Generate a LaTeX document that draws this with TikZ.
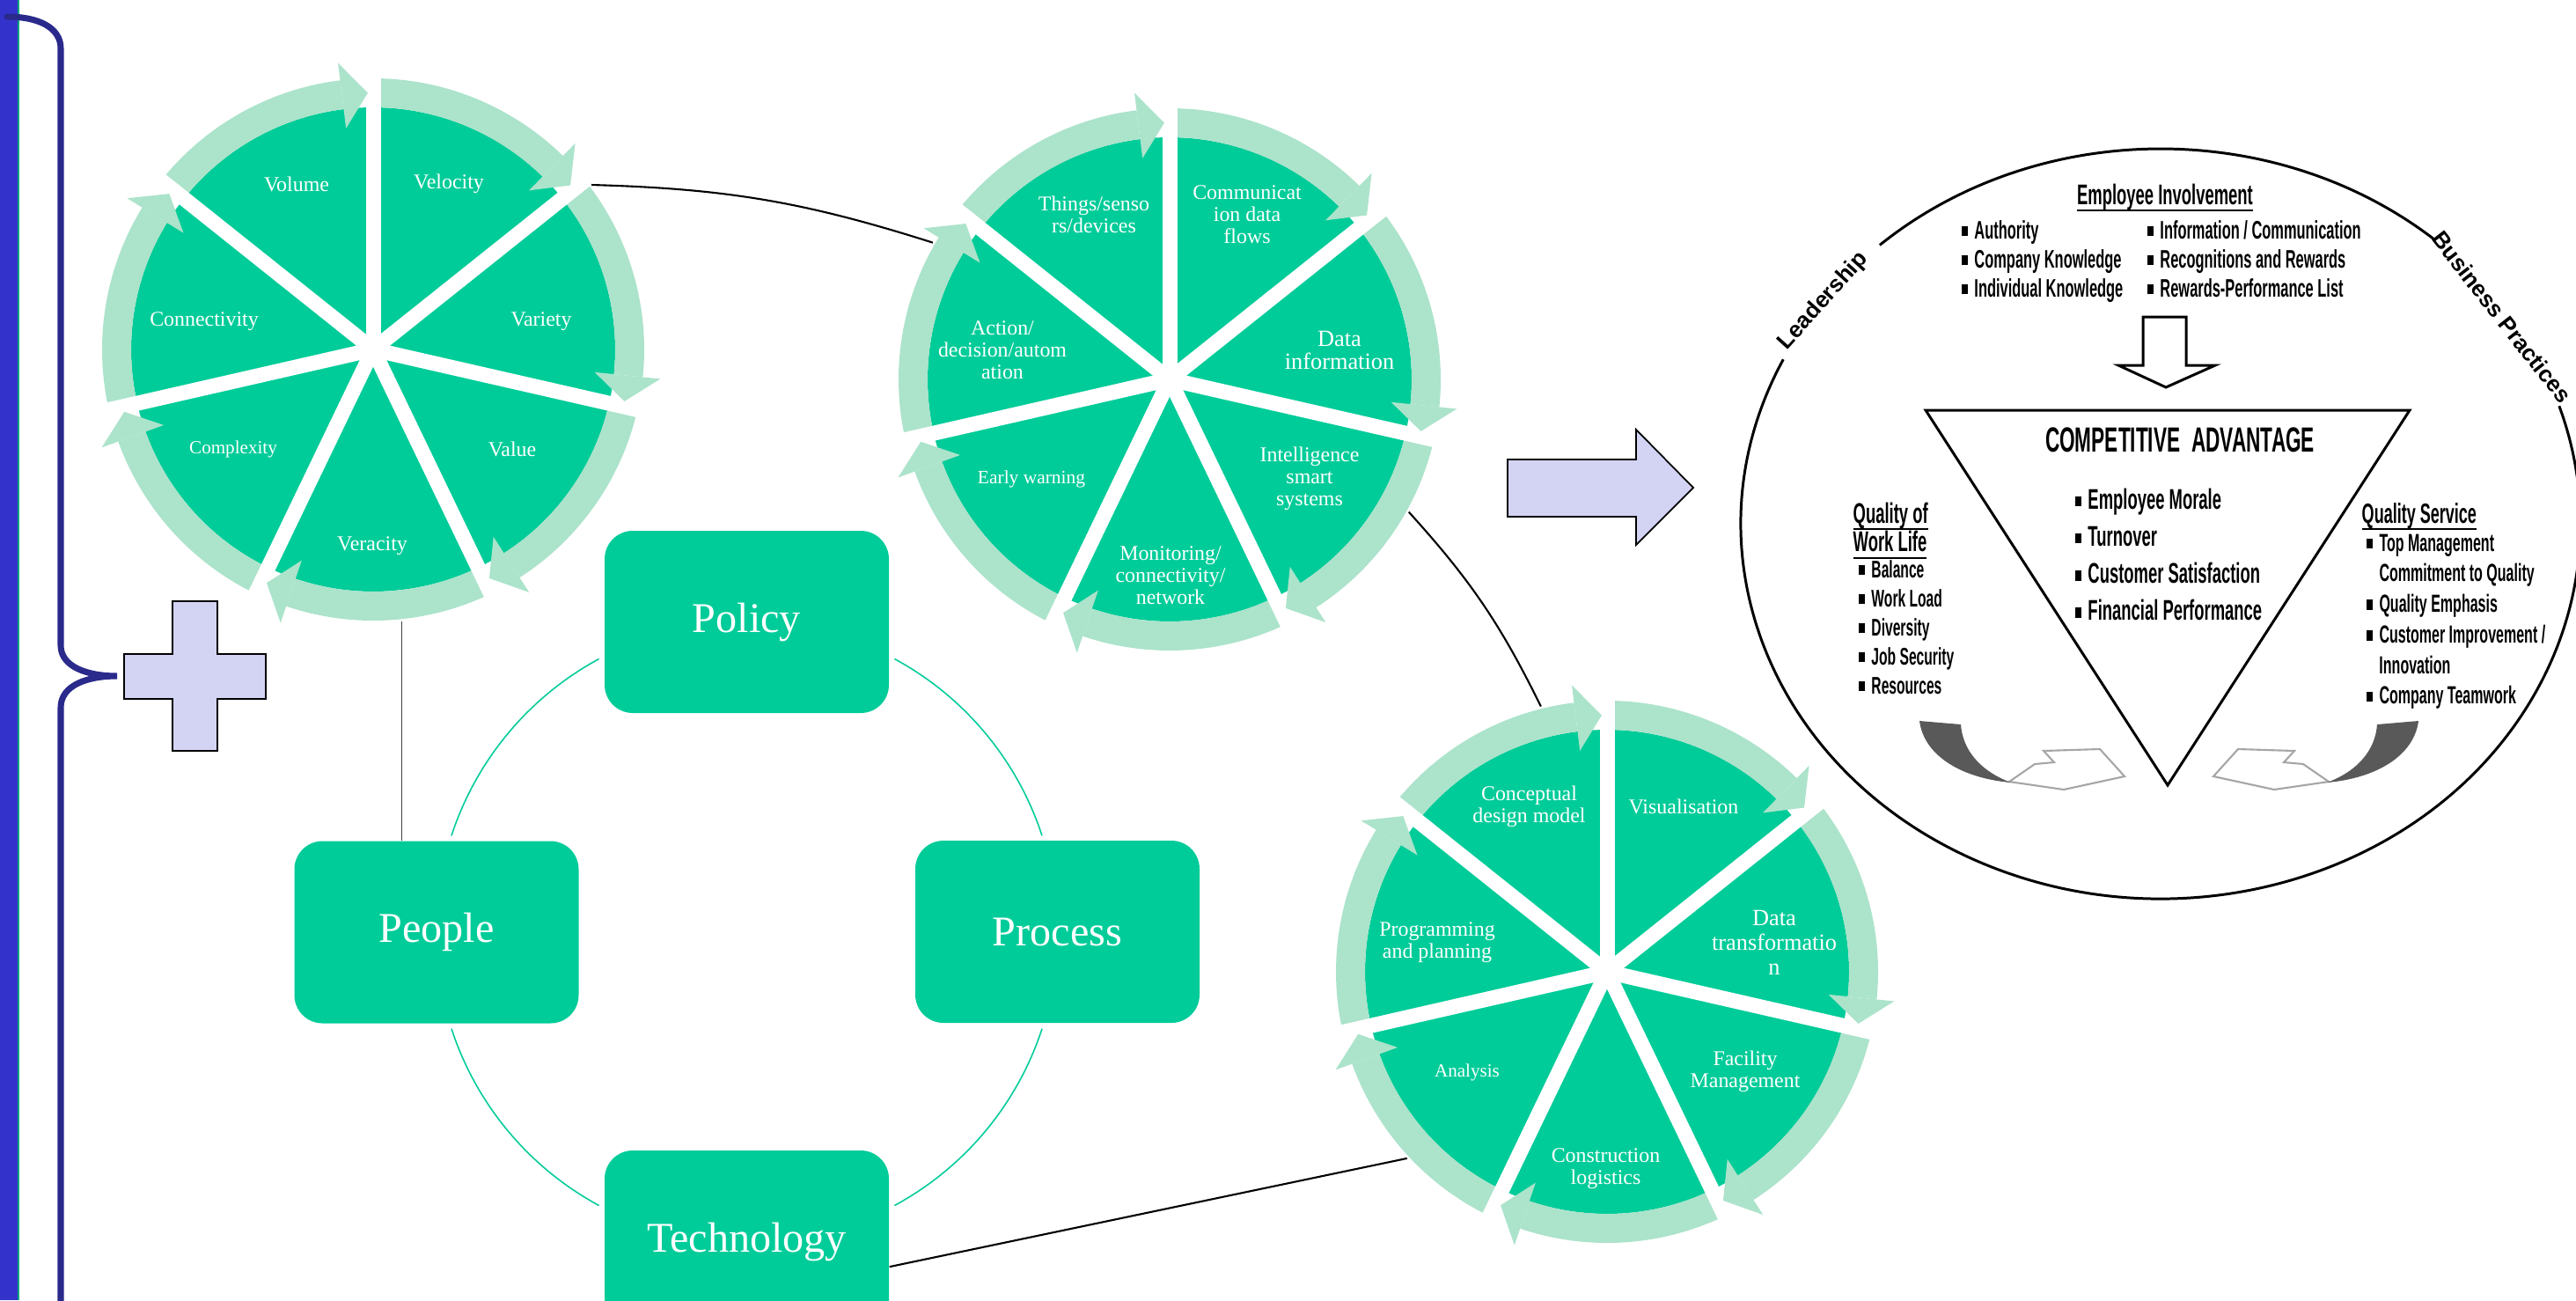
\documentclass[tikz,border=0pt]{standalone}
\usepackage{fontspec}
\setmainfont{Liberation Serif}
\newfontfamily\cafont[FakeStretch=0.57]{Liberation Sans}
\newfontfamily\arcfont{Liberation Sans}
\usepackage{tikz}
\usetikzlibrary{positioning}

\definecolor{segdark}{RGB}{0,204,153}
\definecolor{seglight}{RGB}{172,227,203}
\definecolor{barblue}{RGB}{51,51,204}
\definecolor{bracenavy}{RGB}{42,42,140}
\definecolor{lavender}{RGB}{211,211,243}

% square bullet of the list items
\newcommand{\sqb}{\rule[0.8pt]{2.2pt}{3.3pt}}
% heading with a heavy rule under it
\newcommand{\hdline}[1]{\leavevmode\setbox0=\hbox{#1}\rlap{\rule[-2.4pt]{\wd0}{0.7pt}}\box0}

% seven sectors with their arrow band, drawn round (0,0)
\newcommand{\wheelbody}{%
  \foreach \k in {0,...,6}{
    \pgfmathsetmacro{\angA}{90-51.4286*\k}
    \pgfmathsetmacro{\angB}{\angA-51.4286}
    \pgfmathsetmacro{\angC}{\angB+7}
    \fill[segdark] (0,0) -- (\angA:2.75) arc[start angle=\angA, end angle=\angB, radius=2.75] -- cycle;
    \fill[seglight] (\angA:2.75) arc[start angle=\angA, end angle=\angC, radius=2.75]
      -- (\angC:3.08) arc[start angle=\angC, end angle=\angA, radius=3.08] -- cycle;
  }
  \foreach \k in {0,...,6}
    \draw[white, line width=0.17cm] (0,0) -- (90-51.4286*\k:3.45);
  \foreach \k in {1,...,7}{
    \pgfmathsetmacro{\angB}{90-51.4286*\k}
    \pgfmathsetmacro{\angC}{\angB+7}
    \pgfmathsetmacro{\angT}{\angB+1.2}
    \fill[seglight] (\angC:2.53) -- (\angT:2.915) -- (\angC:3.28) -- cycle;
  }
}

% dark swoosh turning into an open arrow
\newcommand{\swoosh}{%
  \draw[gray!70, line width=0.6pt, fill=white] (22.83,-8.88) -- (23.12,-8.68) -- (23.34,-8.66) -- (23.22,-8.53)
    -- (23.86,-8.51) -- (24.14,-8.82) -- (23.45,-8.97) -- cycle;
  \fill[black!65] (21.81,-8.19) .. controls (21.86,-8.58) and (22.28,-8.84) .. (22.85,-8.89)
    .. controls (22.50,-8.76) and (22.30,-8.52) .. (22.28,-8.23) -- cycle;
}

\begin{document}
\begin{tikzpicture}
\tikzstyle{hub}=[circle, minimum size=6.2cm, inner sep=0pt]
\tikzstyle{seglabel}=[text=white, align=center, inner sep=0pt, font=\fontsize{6.8}{7.1}\selectfont]
\tikzstyle{pillar}=[rectangle, rounded corners=0.32cm, fill=segdark, minimum width=3.23cm, minimum height=2.07cm, text=white, font=\fontsize{13.7}{16}\selectfont]
\tikzstyle{cycarc}=[segdark, line width=0.45pt]
\tikzstyle{link}=[black, line width=0.6pt]
\tikzstyle{block}=[fill=lavender, draw=black, line width=0.5pt]
\tikzstyle{inkline}=[black, line width=0.85pt]
\tikzstyle{ink}=[inner sep=0pt, text=black, anchor=base west]
\tikzstyle{rimtext}=[inner sep=0pt, text=black, font=\arcfont\bfseries\fontsize{7.4}{9}\selectfont]

\useasboundingbox (0,0) rectangle (29.27,-14.77);
\clip (0,0) rectangle (29.27,-14.77);

% bar and brace on the left
\fill[barblue] (0,0) rectangle (0.20,-14.77);
\draw[segdark!80!black, line width=0.5pt] (0.21,0) -- (0.21,-14.77);
\draw[bracenavy, line width=2pt, line cap=round] (0.08,-0.19) .. controls (0.45,-0.19) and (0.69,-0.32) .. (0.69,-0.55)
  -- (0.69,-7.33) .. controls (0.69,-7.58) and (1.0,-7.68) .. (1.33,-7.68)
  .. controls (1.0,-7.68) and (0.69,-7.78) .. (0.69,-8.04) -- (0.69,-14.9);

\draw[block] (1.96,-6.83) -- (2.47,-6.83) -- (2.47,-7.43) -- (3.02,-7.43) -- (3.02,-7.94) -- (2.47,-7.94)
  -- (2.47,-8.53) -- (1.96,-8.53) -- (1.96,-7.94) -- (1.41,-7.94) -- (1.41,-7.43) -- (1.96,-7.43) -- cycle;

% the three wheels
\node[hub] (w_1) at (4.24,-3.97) {};
\node[hub] (w_2) at (13.29,-4.31) {};
\node[hub] (w_3) at (18.26,-11.04) {};

\begin{scope}[shift={(w_1)}]
	\wheelbody
	\node[seglabel] (velocity) at (0.86,1.88) {Velocity};
	\node[seglabel] (variety) at (1.91,0.32) {Variety};
	\node[seglabel] (value) at (1.58,-1.13) {Value};
	\node[seglabel] (veracity) at (-0.01,-2.23) {Veracity};
	\node[seglabel, font=\fontsize{6}{7}\selectfont] (complexity) at (-1.59,-1.13) {Complexity};
	\node[seglabel] (connectivity) at (-1.92,0.32) {Connectivity};
	\node[seglabel] (volume) at (-0.87,1.88) {Volume};
\end{scope}

\begin{scope}[shift={(w_2)}]
	\wheelbody
	\node[seglabel] (commflows) at (0.88,1.87) {Communicat\\ion data\\flows};
	\node[seglabel, font=\fontsize{7.5}{7.4}\selectfont] (datainfo) at (1.93,0.33) {Data\\information};
	\node[seglabel] (intel) at (1.59,-1.13) {Intelligence\\smart\\systems};
	\node[seglabel] (monitor) at (0.01,-2.23) {Monitoring/\\connectivity/\\network};
	\node[seglabel, font=\fontsize{6.1}{7}\selectfont] (early) at (-1.57,-1.13) {Early warning};
	\node[seglabel] (action) at (-1.90,0.33) {Action/\\decision/autom\\ation};
	\node[seglabel] (things) at (-0.86,1.87) {Things/senso\\rs/devices};
\end{scope}

\begin{scope}[shift={(w_3)}]
	\wheelbody
	\node[seglabel] (visual) at (0.87,1.88) {Visualisation};
	\node[seglabel, font=\fontsize{7.5}{7.9}\selectfont] (datatrans) at (1.90,0.33) {Data\\transformatio\\n};
	\node[seglabel] (facility) at (1.57,-1.135) {Facility\\Management};
	\node[seglabel] (constr) at (-0.015,-2.24) {Construction\\logistics};
	\node[seglabel, font=\fontsize{6}{7}\selectfont] (analysis) at (-1.59,-1.14) {Analysis};
	\node[seglabel] (programming) at (-1.93,0.33) {Programming\\and planning};
	\node[seglabel] (concept) at (-0.885,1.88) {Conceptual\\design model};
\end{scope}

% policy / people / process / technology cycle
\node[pillar] (policy) at (8.485,-7.065) {Policy};
\node[pillar] (people) at (4.96,-10.59) {People};
\node[pillar] (process) at (12.015,-10.585) {Process};
\node[pillar] (tech) at (8.485,-14.105) {Technology};

\coordinate (cyc) at (8.485,-10.59);
\draw[cycarc] ([shift={(18.1:3.53)}]cyc) arc[start angle=18.1, end angle=61.6, radius=3.53];
\draw[cycarc] ([shift={(118.4:3.53)}]cyc) arc[start angle=118.4, end angle=161.9, radius=3.53];
\draw[cycarc] ([shift={(198.1:3.53)}]cyc) arc[start angle=198.1, end angle=241.6, radius=3.53];
\draw[cycarc] ([shift={(298.4:3.53)}]cyc) arc[start angle=298.4, end angle=341.9, radius=3.53];

\path
	(w_1.37) edge [link, bend left=8] (w_2.150)
	(w_2.-29) edge [link, bend left=8] (w_3.104)
	(w_3.223) edge [link] (tech.-10);
\draw[link, black!75, line width=0.45pt] (w_1.-84) -- (w_1.-84 |- people.north);

\draw[block] (17.13,-5.22) -- (18.59,-5.22) -- (18.59,-4.88) -- (19.24,-5.54) -- (18.59,-6.19) -- (18.59,-5.87) -- (17.13,-5.87) -- cycle;

% competitive advantage circle
\coordinate (ctr) at (24.55,-5.95);
\draw[inkline] ([shift={(49.4:4.77 and 4.26)}]ctr) arc[start angle=49.4, end angle=132, x radius=4.77, y radius=4.26];
\draw[inkline] ([shift={(154:4.77 and 4.26)}]ctr) arc[start angle=154, end angle=378.3, x radius=4.77, y radius=4.26];
\node[rimtext, rotate=48] (leadership) at (20.72,-3.42) {Leadership};
\node[rimtext, rotate=-52] (bizpractice) at (28.43,-3.60) {Business Practices};

\node[ink, anchor=base, font=\cafont\bfseries\fontsize{9.2}{10}\selectfont] (empinv) at (24.60,-2.32) {\hdline{Employee Involvement}};
\node[ink, font=\cafont\bfseries\fontsize{8.2}{9.4}\selectfont] (eilist_l) at (22.28,-2.71)
	{\begin{tabular}[t]{@{}l@{\hspace{2pt}}l@{}}\sqb & Authority\\ \sqb & Company Knowledge\\ \sqb & Individual Knowledge\end{tabular}};
\node[ink, font=\cafont\bfseries\fontsize{8.2}{9.4}\selectfont] (eilist_r) at (24.39,-2.71)
	{\begin{tabular}[t]{@{}l@{\hspace{2pt}}l@{}}\sqb & Information / Communication\\ \sqb & Recognitions and Rewards\\ \sqb & Rewards-Performance List\end{tabular}};

\draw[inkline, fill=white] (24.35,-3.60) -- (24.84,-3.60) -- (24.84,-4.15) -- (25.17,-4.15) -- (24.61,-4.40) -- (24.07,-4.15) -- (24.35,-4.15) -- cycle;
\draw[inkline] (21.88,-4.66) -- (27.38,-4.66) -- (24.63,-8.92) -- cycle;

\node[ink, anchor=base, font=\cafont\bfseries\fontsize{11.3}{12}\selectfont] (compadv) at (24.77,-5.13) {COMPETITIVE\ \ ADVANTAGE};
\node[ink, font=\cafont\bfseries\fontsize{9.2}{12}\selectfont] (outcomes) at (23.57,-5.78)
	{\begin{tabular}[t]{@{}l@{\hspace{2pt}}l@{}}\sqb & Employee Morale\\ \sqb & Turnover\\ \sqb & Customer Satisfaction\\ \sqb & Financial Performance\end{tabular}};

\node[ink, font=\cafont\bfseries\fontsize{9.2}{8.8}\selectfont] (qwl_head) at (21.05,-5.94)
	{\begin{tabular}[t]{@{}l@{}}\hdline{Quality of}\\ \hdline{Work Life}\end{tabular}};
\node[ink, font=\cafont\bfseries\fontsize{7.8}{9.4}\selectfont] (qwl_list) at (21.11,-6.56)
	{\begin{tabular}[t]{@{}l@{\hspace{2pt}}l@{}}\sqb & Balance\\ \sqb & Work Load\\ \sqb & Diversity\\ \sqb & Job Security\\ \sqb & Resources\end{tabular}};

\node[ink, font=\cafont\bfseries\fontsize{9}{10}\selectfont] (qs_head) at (26.83,-5.94) {\hdline{Quality Service}};
\node[ink, font=\cafont\bfseries\fontsize{8}{9.9}\selectfont] (qs_list) at (26.88,-6.26)
	{\begin{tabular}[t]{@{}l@{\hspace{2pt}}l@{}}\sqb & Top Management\\ & Commitment to Quality\\ \sqb & Quality Emphasis\\ \sqb & Customer Improvement /\\ & Innovation\\ \sqb & Company Teamwork\end{tabular}};

\swoosh
\begin{scope}[xshift=49.29cm, xscale=-1]
	\swoosh
\end{scope}

\end{tikzpicture}
\end{document}
